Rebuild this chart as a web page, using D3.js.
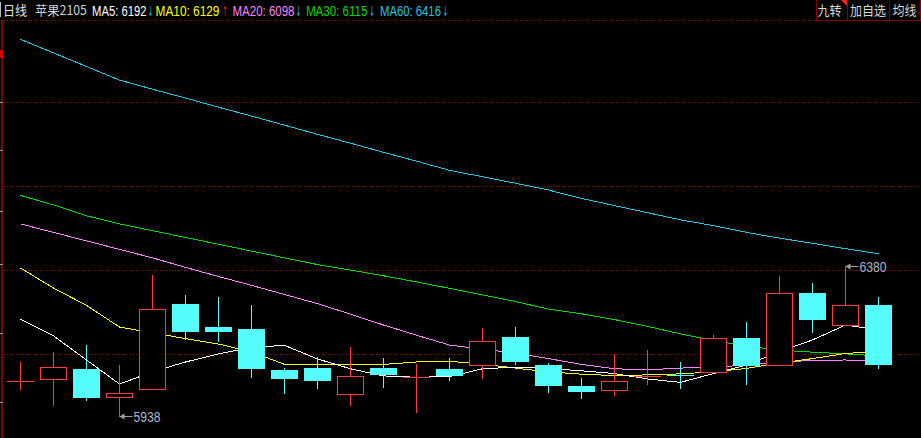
<!DOCTYPE html>
<html><head><meta charset="utf-8">
<script src="https://cdn.jsdelivr.net/npm/d3@7"></script>
<style>html,body{margin:0;padding:0;background:#000;overflow:hidden}</style>
</head><body><svg id="c" width="921" height="438"></svg>
<script>
// ---------------- data ----------------
const period = "日线";
const title = "苹果2105";
const buttons = ["九转", "加自选", "均线"];

const open  = [6041,6046,6077,5995,6017,6268,6200,6194,6072,6080,6002,6080,6054,6077,6087,6171,6088,6026,6014,6055,6058,6067,6168,6087,6300,6207,6265];
const high  = [6097,6127,6147,6088,6354,6295,6289,6265,6080,6111,6141,6109,6091,6109,6197,6200,6094,6050,6120,6133,6097,6177,6215,6351,6330,6380,6289];
const low   = [6018,5971,5986,5938,6017,6164,6160,6054,6007,6021,5971,6024,5951,6045,6051,6092,6010,5992,6001,6033,6021,6067,6033,6087,6184,6207,6080];
const close = [6041,6082,5992,6005,6252,6184,6186,6075,6048,6042,6055,6060,6054,6057,6159,6098,6027,6010,6040,6056,6055,6167,6085,6300,6222,6264,6089];

const ma5  = [6223,6174,6103,6032,6068,6097,6121,6140,6146,6106,6077,6056,6052,6054,6077,6082,6078,6071,6063,6047,6037,6063,6088,6128,6162,6206,6192];
const ma10 = [6374,6315,6264,6200,6183,6166,6150,6127,6090,6090,6090,6090,6097,6099,6091,6079,6068,6061,6057,6059,6062,6068,6078,6094,6107,6122,6129];
const ma20 = [6504,6479,6454,6429,6404,6376,6349,6323,6296,6269,6238,6206,6176,6147,6135,6123,6107,6090,6077,6074,6079,6083,6087,6098,6101,6103,6098];
const ma30 = [6588,6560,6528,6504,6484,6464,6444,6424,6404,6384,6368,6351,6333,6314,6295,6275,6253,6239,6222,6202,6180,6160,6144,6132,6126,6121,6115];
const ma60 = [7048,7008,6968,6928,6901,6875,6848,6822,6795,6768,6742,6715,6689,6662,6643,6624,6604,6579,6558,6537,6516,6499,6479,6462,6447,6431,6416];

const maNames = ["MA5", "MA10", "MA20", "MA30", "MA60"];
const maTrend = ["↓", "↑", "↓", "↓", "↓"];

// ---------------- style / layout ----------------
const W = 921, H = 438;
const maSeries = [ma5, ma10, ma20, ma30, ma60];
const maColors = ["#ffffff", "#ffff00", "#ff80ff", "#00d800", "#1cc4e4"];
const trendColors = {"↓": "#18c8e8", "↑": "#ff2020"};
const UP = "#ff3c3c", DOWN = "#54fcfc";
const GRID = "#9a0000";
const cjk = "'Noto Sans CJK SC', sans-serif";
const lat = "'Liberation Sans', Arial, sans-serif";

const svg = d3.select("#c");
svg.append("rect").attr("width", W).attr("height", H).attr("fill", "#000");

// text squeezed horizontally to a target width (via transform, so boxes are true)
function fitText(parent, str, x0, y0, width, font, size, color, anchor) {
  const g = parent.append("g");
  const t = g.append("text").text(str).attr("font-family", font).attr("font-size", size).attr("fill", color);
  const nat = t.node().getComputedTextLength() || width;
  const sx = width / nat;
  const left = anchor === "middle" ? x0 - width / 2 : x0;
  g.attr("transform", `translate(${left},${y0}) scale(${sx},1)`);
  return g;
}

const x = d3.scaleLinear().domain([0, close.length - 1]).range([20, 878]);
const y = d3.scaleLinear().domain([5873, 7105]).range([438, 20]);
const py = v => Math.round(y(v));
const px = i => Math.round(x(i));

// ---- grid lines (dotted dark red) ----
const gridYs = [20, 102, 186, 270, 354];
svg.append("g").selectAll("line").data(gridYs).join("line")
  .attr("x1", 4).attr("x2", W).attr("y1", d => d + 0.5).attr("y2", d => d + 0.5)
  .attr("stroke", GRID).attr("stroke-width", 1).attr("stroke-dasharray", "1,2");

// ---- left frame ----
svg.append("rect").attr("x", 1).attr("y", 20).attr("width", 2).attr("height", H - 20).attr("fill", "#7a0000");
svg.append("rect").attr("x", 0).attr("y", 50).attr("width", 3).attr("height", 8).attr("fill", "#e00000");
svg.append("g").selectAll("rect").data([102, 150, 211, 264, 333, 402]).join("rect")
  .attr("x", 0).attr("y", d => d).attr("width", 3).attr("height", 1).attr("fill", "#9a9a9a");
svg.append("rect").attr("x", 0).attr("y", 2).attr("width", 1).attr("height", 15).attr("fill", "#bbbbbb");

// ---- MA lines ----
const line = d3.line().x((d, i) => px(i) + 0.5).y(d => y(d));
const gl = svg.append("g");
[4, 3, 2, 1, 0].forEach(k => {
  gl.append("path").datum(maSeries[k]).attr("d", line)
    .attr("fill", "none").attr("stroke", maColors[k]).attr("stroke-width", 1)
    .attr("shape-rendering", "crispEdges");
});

// ---- candles ----
const gc = svg.append("g").attr("shape-rendering", "crispEdges");
close.forEach((c, i) => {
  const o = open[i], h = high[i], l = low[i];
  const cx = px(i);
  const up = c >= o;
  const col = up ? UP : DOWN;
  const yt = py(Math.max(o, c)), yb = py(Math.min(o, c));
  const yh = py(h), yl = py(l);
  if (up) {
    if (yt > yh) gc.append("rect").attr("x", cx).attr("y", yh).attr("width", 1).attr("height", yt - yh).attr("fill", col);
    if (yl > yb) gc.append("rect").attr("x", cx).attr("y", yb).attr("width", 1).attr("height", yl - yb + 1).attr("fill", col);
    if (yb - yt < 1) {
      gc.append("rect").attr("x", cx - 13).attr("y", yt).attr("width", 27).attr("height", 1).attr("fill", col);
    } else {
      gc.append("rect").attr("x", cx - 13 + 0.5).attr("y", yt + 0.5).attr("width", 26).attr("height", yb - yt)
        .attr("fill", "#000").attr("stroke", col).attr("stroke-width", 1);
    }
  } else {
    gc.append("rect").attr("x", cx).attr("y", yh).attr("width", 1).attr("height", yl - yh + 1).attr("fill", col);
    gc.append("rect").attr("x", cx - 13).attr("y", yt).attr("width", 27).attr("height", Math.max(1, yb - yt)).attr("fill", col);
  }
});

// ---- max / min annotations ----
function annot(i, v) {
  const cx = px(i) + 0.5, yy = py(v) + 0.5;
  const g = svg.append("g");
  g.append("line").attr("x1", cx + 2).attr("x2", cx + 13).attr("y1", yy).attr("y2", yy)
    .attr("stroke", "#a0a0a0").attr("stroke-width", 1);
  g.append("path").attr("d", `M${cx},${yy} L${cx + 5},${yy - 3} L${cx + 5},${yy + 3} Z`).attr("fill", "#a0a0a0");
  fitText(g, String(v), cx + 14, yy + 5, 27, lat, 14, "#a8b8cc");
}
const iMax = d3.maxIndex(high), iMin = d3.minIndex(low);
annot(iMax, high[iMax]);
annot(iMin, low[iMin]);

// ---- header ----
const gh = svg.append("g");
fitText(gh, period, 3, 15, 24, cjk, 13, "#e0e0e0");
fitText(gh, title, 35, 15, 52, cjk, 13, "#d0d0d0");
const maX = [92, 155.5, 232.5, 306, 380];
const maW = [54.5, 64, 62, 61.5, 61];
const arX = [148, 222.5, 296, 369.5, 443];
maNames.forEach((n, k) => {
  const last = maSeries[k][maSeries[k].length - 1];
  fitText(gh, `${n}: ${last}`, maX[k], 16, maW[k], lat, 15, maColors[k]);
  fitText(gh, maTrend[k], arX[k], 16, 5, "DejaVu Sans, sans-serif", 14, trendColors[maTrend[k]]);
});

// ---- buttons top right ----
const bx = [816, 847, 889, 920];
const gb = svg.append("g");
gb.append("rect").attr("x", 816.5).attr("y", -1).attr("width", 104).attr("height", 21.5)
  .attr("fill", "#000").attr("stroke", "#8b0000").attr("shape-rendering", "crispEdges");
[847, 889].forEach(xx => gb.append("line").attr("x1", xx + 0.5).attr("x2", xx + 0.5).attr("y1", 0).attr("y2", 20)
  .attr("stroke", "#8b0000").attr("shape-rendering", "crispEdges"));
gb.append("path").attr("d", "M841,0 L847,0 L847,6 Z").attr("fill", "#ff2020");
buttons.forEach((b, k) => {
  fitText(gb, b, (bx[k] + bx[k + 1]) / 2 + (k === 0 ? -2 : 0), 15, b.length * 12, cjk, 13, "#d8d8d8", "middle");
});
</script></body></html>
